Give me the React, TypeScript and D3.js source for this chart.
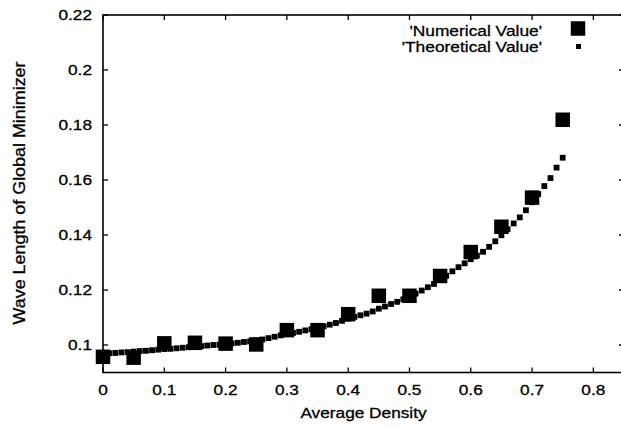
import {useEffect, useRef} from "react";
import * as d3 from 'd3'

// axis ticks
const xTicks = [0, 0.1, 0.2, 0.3, 0.4, 0.5, 0.6, 0.7, 0.8]
const xTickLabels = ["0", "0.1", "0.2", "0.3", "0.4", "0.5", "0.6", "0.7", "0.8"]
const yTicks = [0.1, 0.12, 0.14, 0.16, 0.18, 0.2, 0.22]
const yTickLabels = ["0.1", "0.12", "0.14", "0.16", "0.18", "0.2", "0.22"]

// 'Numerical Value'
const numDensity = [0, 0.05, 0.1, 0.15, 0.2, 0.25, 0.3, 0.35, 0.4, 0.45, 0.5, 0.55, 0.6, 0.65, 0.7, 0.75]
const numValue = [0.0957, 0.0954, 0.1006, 0.1008, 0.1005, 0.1002, 0.1054, 0.1054, 0.1112, 0.1179, 0.1179, 0.1251, 0.1338, 0.1430, 0.1536, 0.1819]

// 'Theoretical Value'
const theoDensity = [
    0, 0.01, 0.02, 0.03, 0.04, 0.05, 0.06, 0.07, 0.08, 0.09,
    0.1, 0.11, 0.12, 0.13, 0.14, 0.15, 0.16, 0.17, 0.18, 0.19,
    0.2, 0.21, 0.22, 0.23, 0.24, 0.25, 0.26, 0.27, 0.28, 0.29,
    0.3, 0.31, 0.32, 0.33, 0.34, 0.35, 0.36, 0.37, 0.38, 0.39,
    0.4, 0.41, 0.42, 0.43, 0.44, 0.45, 0.46, 0.47, 0.48, 0.49,
    0.5, 0.51, 0.52, 0.53, 0.54, 0.55, 0.56, 0.57, 0.58, 0.59,
    0.6, 0.61, 0.62, 0.63, 0.64, 0.65, 0.66, 0.67, 0.68, 0.69,
    0.7, 0.71, 0.72, 0.73, 0.74, 0.75]
const theoValue = [
    0.0968, 0.0970, 0.0971, 0.0973, 0.0974, 0.0976, 0.0978, 0.0979, 0.0981, 0.0983,
    0.0985, 0.0986, 0.0988, 0.0990, 0.0992, 0.0994, 0.0996, 0.0998, 0.1000, 0.1001,
    0.1003, 0.1006, 0.1008, 0.1011, 0.1013, 0.1016, 0.1020, 0.1025, 0.1030, 0.1035,
    0.1040, 0.1044, 0.1048, 0.1053, 0.1057, 0.1062, 0.1068, 0.1074, 0.1080, 0.1088,
    0.1096, 0.1102, 0.1108, 0.1114, 0.1122, 0.1132, 0.1140, 0.1149, 0.1157, 0.1166,
    0.1176, 0.1187, 0.1198, 0.1210, 0.1222, 0.1236, 0.1252, 0.1268, 0.1283, 0.1297,
    0.1312, 0.1325, 0.1339, 0.1357, 0.1377, 0.1399, 0.1421, 0.1442, 0.1464, 0.1490,
    0.1519, 0.1549, 0.1578, 0.1607, 0.1645, 0.1681]

const FONT = '"Liberation Sans", Arial, Helvetica, sans-serif'

const App = () => {
    const svgRef = useRef<SVGSVGElement>(null)

    useEffect(() => {
        const svg = d3.select(svgRef.current)
        svg.selectAll("*").remove()

        const left = 103, right = 624, top = 15, bottom = 372.5
        const x = d3.scaleLinear().domain([0, 0.85]).range([left, right])
        const y = d3.scaleLinear().domain([0.09, 0.22]).range([bottom, top])
        const tick = 5

        // frame
        svg.append("rect")
            .attr("x", left).attr("y", top)
            .attr("width", right - left).attr("height", bottom - top)
            .attr("fill", "none").attr("stroke", "#000").attr("stroke-width", 1.6)

        // ticks on all four sides, pointing inward
        const g = svg.append("g").attr("stroke", "#000").attr("stroke-width", 1.3)
        xTicks.forEach(t => {
            g.append("line").attr("x1", x(t)).attr("x2", x(t)).attr("y1", bottom).attr("y2", bottom - tick)
            g.append("line").attr("x1", x(t)).attr("x2", x(t)).attr("y1", top).attr("y2", top + tick)
        })
        yTicks.forEach(t => {
            g.append("line").attr("x1", left).attr("x2", left + tick).attr("y1", y(t)).attr("y2", y(t))
            g.append("line").attr("x1", right).attr("x2", right - tick).attr("y1", y(t)).attr("y2", y(t))
        })

        const label = (tx: number, ty: number, txt: string, anchor: string, size: number, sx = 1.15, rot = 0) =>
            svg.append("text")
                .attr("transform", `translate(${tx},${ty}) rotate(${rot}) scale(${sx},1)`)
                .attr("text-anchor", anchor)
                .attr("font-family", FONT)
                .attr("font-size", size)
                .attr("fill", "#000")
                .attr("stroke", "#000")
                .attr("stroke-width", 0.3)
                .text(txt)

        xTicks.forEach((t, i) => label(x(t), 395, xTickLabels[i], "middle", 15))
        yTicks.forEach((t, i) => label(92, y(t) + 5.3, yTickLabels[i], "end", 15))

        label((left + right) / 2, 418, "Average Density", "middle", 15)
        label(25, 193, "Wave Length of Global Minimizer", "middle", 16, 1.12, -90)

        // theoretical curve points
        const sSmall = 5.8
        svg.append("g").selectAll("rect")
            .data(theoDensity)
            .join("rect")
            .attr("x", (d) => x(d) - sSmall / 2)
            .attr("y", (d, i) => y(theoValue[i]) - sSmall / 2)
            .attr("width", sSmall).attr("height", sSmall)
            .attr("fill", "#000")

        // numerical points
        const sBig = 14.5
        svg.append("g").selectAll("rect")
            .data(numDensity)
            .join("rect")
            .attr("x", (d) => x(d) - sBig / 2)
            .attr("y", (d, i) => y(numValue[i]) - sBig / 2)
            .attr("width", sBig).attr("height", sBig)
            .attr("fill", "#000")

        // legend
        label(542, 35.5, "'Numerical Value'", "end", 15.5, 1.12)
        label(542, 51.5, "'Theoretical Value'", "end", 15.5, 1.12)
        svg.append("rect").attr("x", 578 - sBig / 2).attr("y", 28.5 - sBig / 2)
            .attr("width", sBig).attr("height", sBig).attr("fill", "#000")
        svg.append("rect").attr("x", 578.5 - 5 / 2).attr("y", 46.5 - 5 / 2)
            .attr("width", 5).attr("height", 5).attr("fill", "#000")
    }, [])

    return (
        <svg ref={svgRef} width={621} height={428}
             style={{position: "absolute", left: 0, top: 0, background: "#fff"}}/>
    )
}

export default App
